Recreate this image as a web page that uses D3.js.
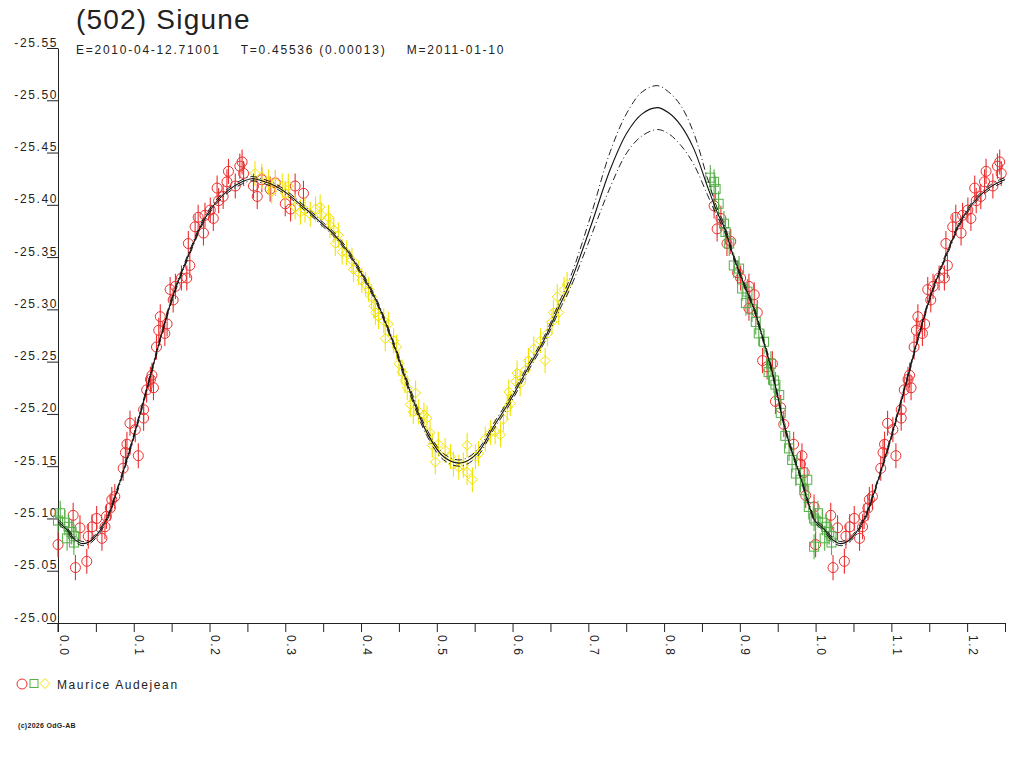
<!DOCTYPE html>
<html><head><meta charset="utf-8">
<script src="https://cdn.jsdelivr.net/npm/d3@7"></script>
<style>
html,body{margin:0;padding:0;background:#fff;}
svg text{font-family:"Liberation Sans",Arial,sans-serif;fill:#222;}
</style></head>
<body>
<svg id="c" width="1024" height="768"></svg>
<script>
const titleText = "(502) Sigune";
const subtitleText = "E=2010-04-12.71001    T=0.45536 (0.00013)    M=2011-01-10";
const legendText = "Maurice Audejean";
const copyrightText = "(c)2026 OdG-AB";

const yTicks = [-25.55,-25.50,-25.45,-25.40,-25.35,-25.30,-25.25,-25.20,-25.15,-25.10,-25.05,-25.00];
const xMajorTicks = [0,0.1,0.2,0.3,0.4,0.5,0.6,0.7,0.8,0.9,1.0,1.1,1.2];
const xAllTicks = [0,0.05,0.1,0.15,0.2,0.25,0.3,0.35,0.4,0.45,0.5,0.55,0.6,0.65,0.7,0.75,0.8,0.85,0.9,0.95,1.0,1.05,1.1,1.15,1.2,1.25];

// fitted light curve (phase 0..1): solid and the two dash-dot envelopes
const curvePhase = [0.000,0.012,0.022,0.032,0.042,0.053,0.066,0.075,0.084,0.097,0.111,0.124,0.137,0.150,0.163,0.177,0.190,0.207,0.225,0.243,0.256,0.269,0.287,0.304,0.322,0.335,0.350,0.364,0.381,0.395,0.408,0.421,0.443,0.465,0.487,0.509,0.531,0.553,0.575,0.597,0.619,0.641,0.663,0.676,0.703,0.729,0.751,0.771,0.791,0.806,0.822,0.839,0.857,0.870,0.879,0.892,0.905,0.919,0.930,0.941,0.949,0.958,0.967,0.980,0.989,0.998];
const curveMid = [-25.097,-25.089,-25.080,-25.076,-25.078,-25.086,-25.102,-25.120,-25.140,-25.171,-25.207,-25.242,-25.277,-25.309,-25.335,-25.360,-25.382,-25.401,-25.414,-25.422,-25.425,-25.423,-25.418,-25.410,-25.399,-25.391,-25.381,-25.372,-25.357,-25.341,-25.325,-25.307,-25.267,-25.221,-25.182,-25.159,-25.153,-25.162,-25.188,-25.213,-25.242,-25.270,-25.305,-25.325,-25.379,-25.434,-25.469,-25.487,-25.493,-25.488,-25.476,-25.454,-25.418,-25.393,-25.379,-25.350,-25.325,-25.300,-25.273,-25.245,-25.220,-25.191,-25.168,-25.140,-25.118,-25.099];
const curveUpper = [-25.099,-25.091,-25.082,-25.078,-25.080,-25.088,-25.104,-25.122,-25.142,-25.173,-25.209,-25.244,-25.279,-25.311,-25.337,-25.362,-25.384,-25.403,-25.416,-25.424,-25.427,-25.425,-25.420,-25.412,-25.401,-25.393,-25.383,-25.374,-25.359,-25.343,-25.327,-25.309,-25.269,-25.224,-25.185,-25.162,-25.156,-25.165,-25.191,-25.216,-25.245,-25.273,-25.309,-25.330,-25.389,-25.451,-25.488,-25.508,-25.514,-25.508,-25.495,-25.469,-25.426,-25.397,-25.382,-25.352,-25.327,-25.302,-25.275,-25.247,-25.222,-25.193,-25.170,-25.142,-25.120,-25.101];
const curveLower = [-25.095,-25.087,-25.078,-25.074,-25.076,-25.084,-25.100,-25.118,-25.138,-25.169,-25.205,-25.240,-25.275,-25.307,-25.333,-25.358,-25.380,-25.399,-25.412,-25.420,-25.423,-25.421,-25.416,-25.408,-25.397,-25.389,-25.379,-25.370,-25.355,-25.339,-25.323,-25.305,-25.265,-25.218,-25.179,-25.156,-25.150,-25.159,-25.185,-25.210,-25.239,-25.267,-25.301,-25.320,-25.369,-25.417,-25.450,-25.466,-25.472,-25.468,-25.457,-25.439,-25.410,-25.389,-25.376,-25.348,-25.323,-25.298,-25.271,-25.243,-25.218,-25.189,-25.166,-25.138,-25.116,-25.097];

// observations [phase, magnitude]
const redPoints = [[0.000,-25.075],[0.023,-25.053],[0.038,-25.059],[0.020,-25.103],[0.029,-25.091],[0.040,-25.083],[0.045,-25.092],[0.051,-25.100],[0.058,-25.081],[0.062,-25.092],[0.064,-25.102],[0.069,-25.110],[0.071,-25.118],[0.075,-25.121],[0.086,-25.148],[0.089,-25.163],[0.091,-25.171],[0.106,-25.160],[0.095,-25.191],[0.102,-25.185],[0.113,-25.196],[0.113,-25.204],[0.117,-25.223],[0.122,-25.233],[0.126,-25.225],[0.124,-25.237],[0.130,-25.264],[0.133,-25.280],[0.135,-25.293],[0.144,-25.286],[0.141,-25.277],[0.148,-25.319],[0.152,-25.309],[0.155,-25.322],[0.163,-25.330],[0.170,-25.330],[0.174,-25.342],[0.172,-25.363],[0.181,-25.379],[0.185,-25.388],[0.192,-25.373],[0.194,-25.390],[0.201,-25.395],[0.205,-25.387],[0.212,-25.404],[0.210,-25.416],[0.218,-25.408],[0.223,-25.422],[0.225,-25.432],[0.234,-25.418],[0.240,-25.437],[0.245,-25.430],[0.243,-25.441],[0.258,-25.418],[0.263,-25.408],[0.269,-25.424],[0.280,-25.415],[0.287,-25.421],[0.300,-25.401],[0.307,-25.396],[0.313,-25.418],[0.324,-25.411],
[0.866,-25.399],[0.870,-25.377],[0.875,-25.387],[0.883,-25.363],[0.888,-25.365],[0.897,-25.335],[0.901,-25.330],[0.912,-25.322],[0.919,-25.314],[0.912,-25.301],[0.923,-25.297],[0.930,-25.251],[0.943,-25.248],[0.936,-25.245],[0.947,-25.212],[0.954,-25.206],[0.958,-25.190],[0.971,-25.171],[0.982,-25.160],[0.980,-25.152],[0.985,-25.144],[0.987,-25.122],[0.998,-25.111]];
const greenPoints = [[0.003,-25.105],[0.000,-25.098],[0.009,-25.096],[0.014,-25.092],[0.012,-25.081],[0.018,-25.087],[0.021,-25.083],[0.021,-25.077],
[0.861,-25.426],[0.866,-25.422],[0.868,-25.415],[0.872,-25.401],[0.879,-25.382],[0.881,-25.374],[0.886,-25.363],[0.892,-25.342],[0.899,-25.339],[0.903,-25.320],[0.910,-25.317],[0.908,-25.306],[0.916,-25.300],[0.921,-25.288],[0.925,-25.277],[0.932,-25.269],[0.941,-25.248],[0.938,-25.240],[0.945,-25.232],[0.947,-25.228],[0.952,-25.218],[0.954,-25.201],[0.960,-25.179],[0.965,-25.167],[0.969,-25.156],[0.974,-25.143],[0.980,-25.137],[0.989,-25.137],[0.985,-25.127],[0.991,-25.111],[0.998,-25.100],[0.998,-25.073]];
const yellowPoints = [[0.260,-25.430],[0.269,-25.427],[0.278,-25.422],[0.287,-25.421],[0.282,-25.413],[0.296,-25.418],[0.304,-25.418],[0.300,-25.411],[0.313,-25.398],[0.320,-25.393],[0.326,-25.395],[0.333,-25.391],[0.340,-25.396],[0.346,-25.398],[0.348,-25.390],[0.357,-25.388],[0.359,-25.380],[0.364,-25.376],[0.370,-25.371],[0.366,-25.363],[0.375,-25.355],[0.381,-25.354],[0.388,-25.347],[0.390,-25.338],[0.397,-25.335],[0.401,-25.328],[0.406,-25.324],[0.410,-25.319],[0.414,-25.312],[0.417,-25.303],[0.419,-25.297],[0.423,-25.293],[0.430,-25.289],[0.436,-25.286],[0.432,-25.272],[0.443,-25.270],[0.447,-25.264],[0.450,-25.248],[0.454,-25.240],[0.458,-25.232],[0.461,-25.225],[0.472,-25.220],[0.465,-25.209],[0.469,-25.202],[0.476,-25.202],[0.483,-25.199],[0.487,-25.196],[0.491,-25.182],[0.494,-25.170],[0.502,-25.171],[0.498,-25.154],[0.511,-25.165],[0.518,-25.159],[0.522,-25.152],[0.529,-25.149],[0.535,-25.151],[0.540,-25.170],[0.547,-25.137],[0.540,-25.144],[0.551,-25.159],[0.555,-25.162],[0.564,-25.176],[0.571,-25.182],[0.577,-25.183],[0.584,-25.180],[0.588,-25.195],[0.593,-25.206],[0.597,-25.210],[0.595,-25.221],[0.604,-25.231],[0.610,-25.229],[0.606,-25.239],[0.617,-25.242],[0.621,-25.251],[0.628,-25.262],[0.637,-25.270],[0.643,-25.251],[0.646,-25.277],[0.652,-25.288],[0.654,-25.297],[0.661,-25.297],[0.659,-25.312],[0.668,-25.319],[0.672,-25.324]];
const errRed = 0.012, errGreen = 0.012, errYellow = 0.012;

const colRed = "#ec2e2e", colGreen = "#55b047", colYellow = "#f2e400";

const svg = d3.select("#c");
const x = d3.scaleLinear().domain([0,1.25]).range([58,1005]);
const y = d3.scaleLinear().domain([-25.00,-25.55]).range([623,48]);

// title
svg.append("text").attr("x",76).attr("y",29).style("font-size","28px").style("letter-spacing","1.2px").text(titleText);
svg.append("text").attr("x",76).attr("y",54).style("font-size","12px").style("letter-spacing","1.75px").style("white-space","pre").text(subtitleText);

// axes
const yAxis = d3.axisLeft(y).tickValues(yTicks).tickSize(11).tickSizeOuter(0).tickFormat(d=>d.toFixed(2));
const gy = svg.append("g").attr("transform","translate(58,0)").call(yAxis);
gy.selectAll("text").attr("x",0).attr("dy","-2px").attr("text-anchor","end")
  .style("font-size","12px").style("letter-spacing","1.6px").style("fill","#222");
gy.selectAll("line,path").attr("stroke","#222");

const xAxis = d3.axisBottom(x).tickValues(xAllTicks).tickSize(9).tickSizeOuter(0)
  .tickFormat(d => xMajorTicks.some(m=>Math.abs(m-d)<1e-9) ? d.toFixed(1) : "");
const gx = svg.append("g").attr("transform","translate(0,623)").call(xAxis);
gx.selectAll("line,path").attr("stroke","#222");
gx.selectAll(".tick text").attr("y",0).attr("x",0).attr("dy",0)
  .attr("text-anchor","start")
  .attr("transform","translate(1,12) rotate(90)")
  .style("font-size","12px").style("letter-spacing","1.6px").style("fill","#222");

// vertical axis continues into the tick area
svg.append("line").attr("x1",x(0)).attr("x2",x(0)).attr("y1",y(-25.00)).attr("y2",y(-25.00)+9).attr("stroke","#222");

const clipId = "plotclip";
svg.append("clipPath").attr("id",clipId).append("rect").attr("x",x(0)).attr("y",y(-25.55)).attr("width",x(1.25)-x(0)).attr("height",y(-25.00)-y(-25.55));

// observations: each phase also shown at phase+1 within the axis range
function expand(points){
  const out=[];
  points.forEach(p=>{ out.push(p); if(p[0]+1<=1.25) out.push([p[0]+1,p[1]]); });
  return out;
}
function drawSeries(points, err, color, shape){
  const g = svg.append("g");
  const pts = expand(points);
  g.selectAll("line.eb").data(pts).enter().append("line")
    .attr("x1",d=>x(d[0])).attr("x2",d=>x(d[0]))
    .attr("y1",d=>y(d[1]-err)).attr("y2",d=>y(d[1]+err))
    .attr("stroke",color).attr("stroke-width",1.1);
  if(shape==="circle"){
    g.selectAll("circle").data(pts).enter().append("circle")
      .attr("cx",d=>x(d[0])).attr("cy",d=>y(d[1])).attr("r",5)
      .attr("fill","none").attr("stroke",color).attr("stroke-width",1);
  } else if(shape==="square"){
    g.selectAll("rect").data(pts).enter().append("rect")
      .attr("x",d=>x(d[0])-4.5).attr("y",d=>y(d[1])-4.5).attr("width",9).attr("height",9)
      .attr("fill","none").attr("stroke",color).attr("stroke-width",1);
  } else {
    g.selectAll("path").data(pts).enter().append("path")
      .attr("d",d=>{const cx=x(d[0]),cy=y(d[1]);return `M${cx-5},${cy}L${cx},${cy-5}L${cx+5},${cy}L${cx},${cy+5}Z`;})
      .attr("fill","none").attr("stroke",color).attr("stroke-width",1);
  }
}
drawSeries(redPoints, errRed, colRed, "circle");
drawSeries(greenPoints, errGreen, colGreen, "square");
drawSeries(yellowPoints, errYellow, colYellow, "diamond");

// curves
function curvePts(vals){
  const a = curvePhase.map((p,i)=>[p,vals[i]]);
  const b = curvePhase.map((p,i)=>[p+1,vals[i]]).filter(d=>d[0]<=1.27);
  return a.concat(b);
}
const line = d3.line().x(d=>x(d[0])).y(d=>y(d[1])).curve(d3.curveCatmullRom.alpha(0.5));
const gc = svg.append("g").attr("clip-path",`url(#${clipId})`);
gc.append("path").attr("d",line(curvePts(curveUpper))).attr("fill","none").attr("stroke","#222").attr("stroke-width",1).attr("stroke-dasharray","7,3,1,3");
gc.append("path").attr("d",line(curvePts(curveLower))).attr("fill","none").attr("stroke","#222").attr("stroke-width",1).attr("stroke-dasharray","7,3,1,3");
gc.append("path").attr("d",line(curvePts(curveMid))).attr("fill","none").attr("stroke","#111").attr("stroke-width",1.1);

// legend
const lg = svg.append("g");
lg.append("circle").attr("cx",22).attr("cy",684).attr("r",5).attr("fill","none").attr("stroke",colRed);
lg.append("rect").attr("x",30).attr("y",679.5).attr("width",8).attr("height",8).attr("fill","none").attr("stroke",colGreen);
lg.append("path").attr("d","M40,683.5L45,678.5L50,683.5L45,688.5Z").attr("fill","none").attr("stroke",colYellow);
lg.append("text").attr("x",57).attr("y",689).style("font-size","12px").style("letter-spacing","1.6px").text(legendText);

svg.append("text").attr("x",18).attr("y",728).style("font-size","7px").style("font-weight","bold").style("letter-spacing","0.3px").text(copyrightText);
</script>
</body></html>
